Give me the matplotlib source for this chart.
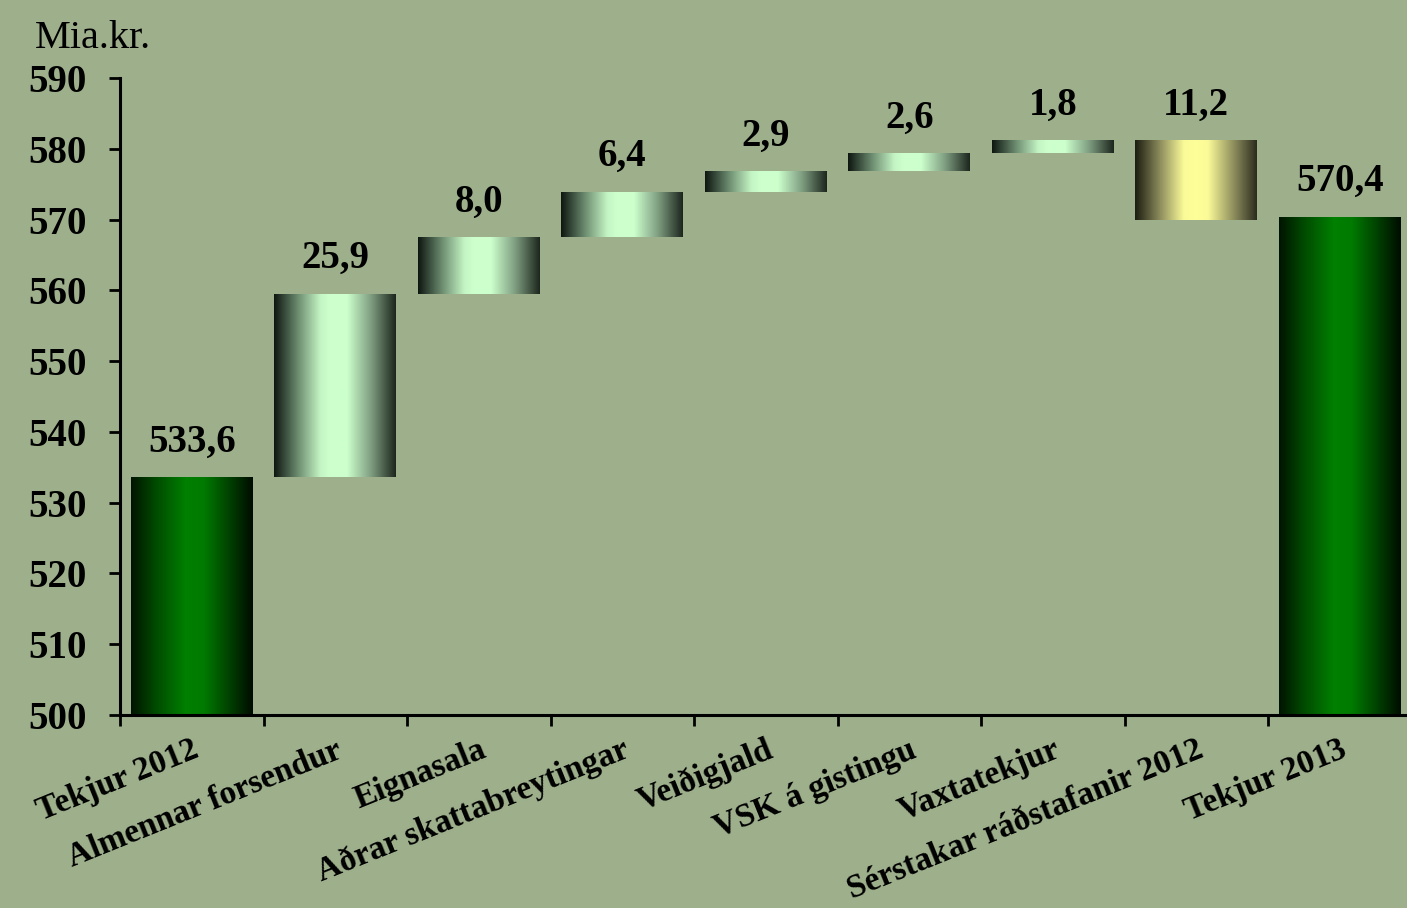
import numpy as np
import matplotlib
matplotlib.use("Agg")
import matplotlib.pyplot as plt
from matplotlib.colors import LinearSegmentedColormap

# ---------- DATA ----------
categories = ["Tekjur 2012", "Almennar forsendur", "Eignasala", "Aðrar skattabreytingar",
              "Veiðigjald", "VSK á gistingu", "Vaxtatekjur", "Sérstakar ráðstafanir 2012",
              "Tekjur 2013"]
start_value = 533.6
changes = [25.9, 8.0, 6.4, 2.9, 2.6, 1.8, -11.2]
end_value = 570.4
y_ticks = [500, 510, 520, 530, 540, 550, 560, 570, 580, 590]

# ---------- STYLE ----------
BG = "#9daf8b"
FONT = "Liberation Serif"
cm_total = LinearSegmentedColormap.from_list(
    "total", [(0, "#001400"), (0.2, "#004a00"), (0.45, "#008000"), (0.6, "#007a00"), (1, "#000c00")])
cm_up = LinearSegmentedColormap.from_list(
    "up", [(0, "#0e1610"), (0.2, "#6f8f72"), (0.38, "#c4f4c4"), (0.45, "#ccffcc"),
           (0.6, "#ccffcc"), (0.8, "#7e9c80"), (1, "#1c261d")])
cm_down = LinearSegmentedColormap.from_list(
    "down", [(0, "#1c1c10"), (0.2, "#8a8a5c"), (0.4, "#fafa98"), (0.5, "#ffff99"),
             (0.6, "#fafa98"), (0.85, "#7a7a52"), (1, "#2c2c1e")])

fig = plt.figure(figsize=(14.07, 9.08), dpi=100, facecolor=BG)
ax = fig.add_axes([120 / 1407, 1 - 715 / 908, 1291.5 / 1407, 637 / 908])
ax.set_facecolor(BG)

# waterfall geometry (totals start at the axis floor)
base = y_ticks[0]
x = np.arange(len(categories))
bottoms, heights, cmaps, tops, labels = [], [], [], [], []
bottoms.append(base); heights.append(start_value - base); cmaps.append(cm_total)
tops.append(start_value); labels.append(start_value)
level = start_value
for c in changes:
    if c >= 0:
        bottoms.append(level); heights.append(c); cmaps.append(cm_up); tops.append(level + c)
    else:
        bottoms.append(level + c); heights.append(-c); cmaps.append(cm_down); tops.append(level)
    labels.append(abs(c))
    level += c
bottoms.append(base); heights.append(end_value - base); cmaps.append(cm_total)
tops.append(end_value); labels.append(end_value)

bars = ax.bar(x, heights, bottom=bottoms, width=0.85, color="none", edgecolor="none", zorder=2)
grad = np.linspace(0, 1, 256).reshape(1, -1)
for bar, cmap in zip(bars, cmaps):
    x0, y0 = bar.get_x(), bar.get_y()
    im = ax.imshow(grad, extent=[x0, x0 + bar.get_width(), y0, y0 + bar.get_height()],
                   aspect="auto", cmap=cmap, zorder=2, interpolation="bilinear")
    im.set_clip_path(bar)

for xi, top, val in zip(x, tops, labels):
    ax.annotate(f"{val:.1f}".replace(".", ","), (xi, top), xytext=(0, 12),
                textcoords="offset points", ha="center", va="bottom",
                fontsize=28, fontweight="bold", family=FONT)

ax.set_xlim(-0.5, len(categories) - 0.5)
ax.set_ylim(500, 590)

# axes styling
for s in ["top", "right"]:
    ax.spines[s].set_visible(False)
for s in ["left", "bottom"]:
    ax.spines[s].set_linewidth(2.2)
    ax.spines[s].set_zorder(3)
ax.set_yticks(y_ticks)
ax.set_yticklabels([str(t) for t in y_ticks], fontsize=28, fontweight="bold", family=FONT)
ax.tick_params(axis="y", length=8, width=2, pad=16)

ax.set_xticks(x)
ax.set_xticklabels(categories, rotation=22, ha="right", rotation_mode="anchor",
                   fontsize=24, fontweight="bold", family=FONT)
ax.tick_params(axis="x", which="major", length=0, pad=14)
ax.set_xticks(np.arange(len(categories) + 1) - 0.5, minor=True)
ax.tick_params(axis="x", which="minor", length=8, width=2)

fig.text(35 / 1407, 1 - 48 / 908, "Mia.kr.", fontsize=29, family=FONT, ha="left", va="baseline")

fig.savefig("out.png", dpi=100, facecolor=BG)
